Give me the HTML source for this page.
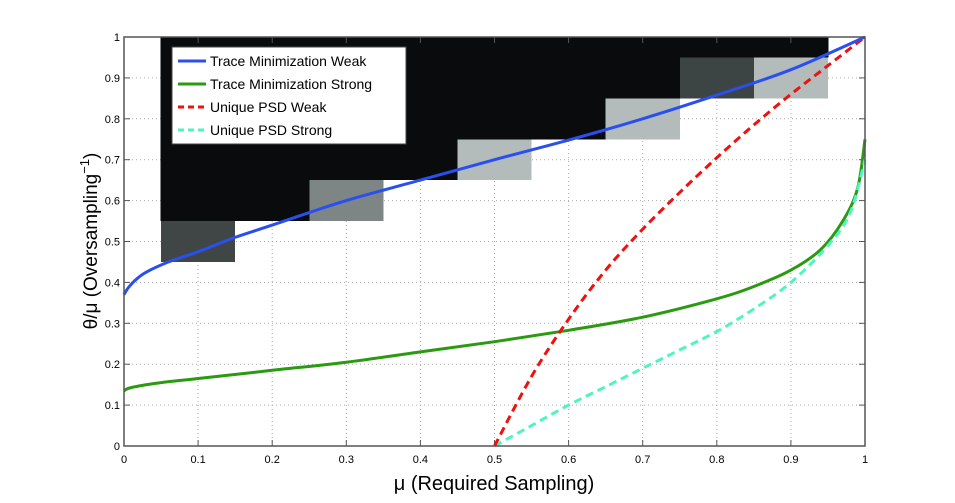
<!DOCTYPE html>
<html><head><meta charset="utf-8"><style>
body{margin:0;background:#fff;}
svg{display:block;font-family:"Liberation Sans",sans-serif;}
</style></head><body>
<svg id="chart" width="955" height="503"></svg>
<script>
const xTicks=[0,0.1,0.2,0.3,0.4,0.5,0.6,0.7,0.8,0.9,1];
const yTicks=[0,0.1,0.2,0.3,0.4,0.5,0.6,0.7,0.8,0.9,1];
const tickLabels=["0","0.1","0.2","0.3","0.4","0.5","0.6","0.7","0.8","0.9","1"];
const blackX0=[0.05,0.25,0.45,0.65,0.75];
const blackX1=[0.25,0.45,0.65,0.75,0.95];
const blackY0=[0.55,0.65,0.75,0.85,0.95];
const boxX0=[0.05,0.25,0.45,0.65,0.75,0.85];
const boxY0=[0.45,0.55,0.65,0.75,0.85,0.85];
const boxShade=["#404646","#7d8585","#b3bcba","#b3bcba","#3d4444","#b3bcba"];
const blueX=[0,0.005,0.015,0.03,0.06,0.1,0.15,0.2,0.3,0.4,0.5,0.6,0.7,0.8,0.9,1];
const blueY=[0.37,0.385,0.405,0.425,0.45,0.475,0.51,0.54,0.6,0.65,0.7,0.748,0.8,0.858,0.92,1];
const greenX=[0,0.01,0.05,0.1,0.2,0.3,0.4,0.5,0.6,0.7,0.8,0.85,0.9,0.94,0.97,0.99,1];
const greenY=[0.135,0.143,0.155,0.165,0.185,0.205,0.23,0.255,0.283,0.315,0.36,0.39,0.43,0.48,0.55,0.63,0.75];
const redX=[0.5,0.55,0.6,0.65,0.7,0.75,0.8,0.85,0.9,0.95,1];
const redY=[0,0.17,0.31,0.43,0.53,0.62,0.705,0.785,0.86,0.93,1];
const cyanX=[0.5,0.55,0.6,0.65,0.7,0.75,0.8,0.85,0.9,0.95,0.98,1];
const cyanY=[0,0.05,0.1,0.145,0.19,0.235,0.28,0.335,0.4,0.49,0.57,0.7];
const legendLabels=["Trace Minimization Weak","Trace Minimization Strong","Unique PSD Weak","Unique PSD Strong"];
const X0=124,X1=865,Y0=446,Y1=37;
const sx=v=>X0+(X1-X0)*v, sy=v=>Y0-(Y0-Y1)*v;
const svg=document.getElementById('chart');
const NS='http://www.w3.org/2000/svg';
function mk(t,a,p){const e=document.createElementNS(NS,t);for(const k in a)e.setAttribute(k,a[k]);(p||svg).appendChild(e);return e;}
xTicks.forEach((v,i)=>{
 if(i>0&&i<xTicks.length-1){const g=mk('line',{x1:sx(v),x2:sx(v),y1:Y0,y2:Y1,stroke:'#aaa','stroke-dasharray':'1 3','stroke-width':1});
 }
});
yTicks.forEach((v,i)=>{
 if(i>0&&i<yTicks.length-1){const g=mk('line',{x1:X0,x2:X1,y1:sy(v),y2:sy(v),stroke:'#aaa','stroke-dasharray':'1 3','stroke-width':1});
 }
});
for(let i=0;i<blackX0.length;i++){
 const r=mk('rect',{x:sx(blackX0[i])-0.5,y:sy(1),width:sx(blackX1[i])-sx(blackX0[i])+1,height:sy(blackY0[i])-sy(1),fill:'#0a0b0c','shape-rendering':'crispEdges'});
 
 
}
for(let i=0;i<boxX0.length;i++){
 const r=mk('rect',{x:sx(boxX0[i]),y:sy(boxY0[i]+0.1),width:sx(0.1)-sx(0),height:sy(boxY0[i])-sy(boxY0[i]+0.1),fill:boxShade[i],'shape-rendering':'crispEdges'});
 
 
}
xTicks.forEach((v,i)=>{
 mk('line',{x1:sx(v),x2:sx(v),y1:Y0,y2:Y0-6,stroke:'#555'});
 mk('line',{x1:sx(v),x2:sx(v),y1:Y1,y2:Y1+6,stroke:'#555'});
 const t=mk('text',{x:sx(v),y:Y0+17,'font-size':11,'text-anchor':'middle',fill:'#000'});t.textContent=tickLabels[i];
 
});
yTicks.forEach((v,i)=>{
 mk('line',{x1:X0,x2:X0+6,y1:sy(v),y2:sy(v),stroke:'#555'});
 mk('line',{x1:X1,x2:X1-6,y1:sy(v),y2:sy(v),stroke:'#555'});
 const t=mk('text',{x:X0-4,y:sy(v)+4,'font-size':11,'text-anchor':'end',fill:'#000'});t.textContent=tickLabels[i];
 
});
function line(xs,ys,color,dash,name){
 const P=xs.map((x,i)=>[sx(x),sy(ys[i])]);
 let d='M'+P[0][0].toFixed(1)+','+P[0][1].toFixed(1);
 for(let i=0;i<P.length-1;i++){
  const p0=P[Math.max(0,i-1)],p1=P[i],p2=P[i+1],p3=P[Math.min(P.length-1,i+2)];
  const c1=[p1[0]+(p2[0]-p0[0])/6,p1[1]+(p2[1]-p0[1])/6];
  const c2=[p2[0]-(p3[0]-p1[0])/6,p2[1]-(p3[1]-p1[1])/6];
  d+='C'+c1.map(v=>v.toFixed(1)).join(',')+' '+c2.map(v=>v.toFixed(1)).join(',')+' '+p2.map(v=>v.toFixed(1)).join(',');
 }
 const p=mk('path',{d:d,fill:'none',stroke:color,'stroke-width':3,'stroke-dasharray':dash||'none'});
 
}
line(greenX,greenY,'#2a9a10',null,'trace-min-strong-line');
line(cyanX,cyanY,'#4ff5c0','8 5','unique-psd-strong-line');
line(redX,redY,'#f01010','8 5','unique-psd-weak-line');
line(blueX,blueY,'#2a4ff0',null,'trace-min-weak-line');
const fr=mk('rect',{x:X0,y:Y1,width:X1-X0,height:Y0-Y1,fill:'none',stroke:'#555','stroke-width':1.5});

const lg=mk('g',{});
mk('rect',{x:172,y:47,width:234,height:97,fill:'#fff',stroke:'#444','stroke-width':1},lg);
const lc=['#2a4ff0','#2a9a10','#f01010','#4ff5c0'],ld=[null,null,'6 4','6 4'];
legendLabels.forEach((s,i)=>{
 const y=61+i*23;
 mk('line',{x1:178,x2:206,y1:y,y2:y,stroke:lc[i],'stroke-width':3,'stroke-dasharray':ld[i]||'none'},lg);
 const t=mk('text',{x:210,y:y+5,'font-size':14,fill:'#000'},lg);t.textContent=s;
 
});
const xt=mk('text',{x:494,y:490,'font-size':20,'text-anchor':'middle',fill:'#000'});xt.textContent='μ (Required Sampling)';

const yt=mk('text',{x:0,y:0,'font-size':19,'text-anchor':'middle',fill:'#000',transform:'translate(97,241) rotate(-90)'});
yt.innerHTML='θ/μ (Oversampling<tspan dy="-8" font-size="13">−1</tspan><tspan dy="8">)</tspan>';

</script>
</body></html>
